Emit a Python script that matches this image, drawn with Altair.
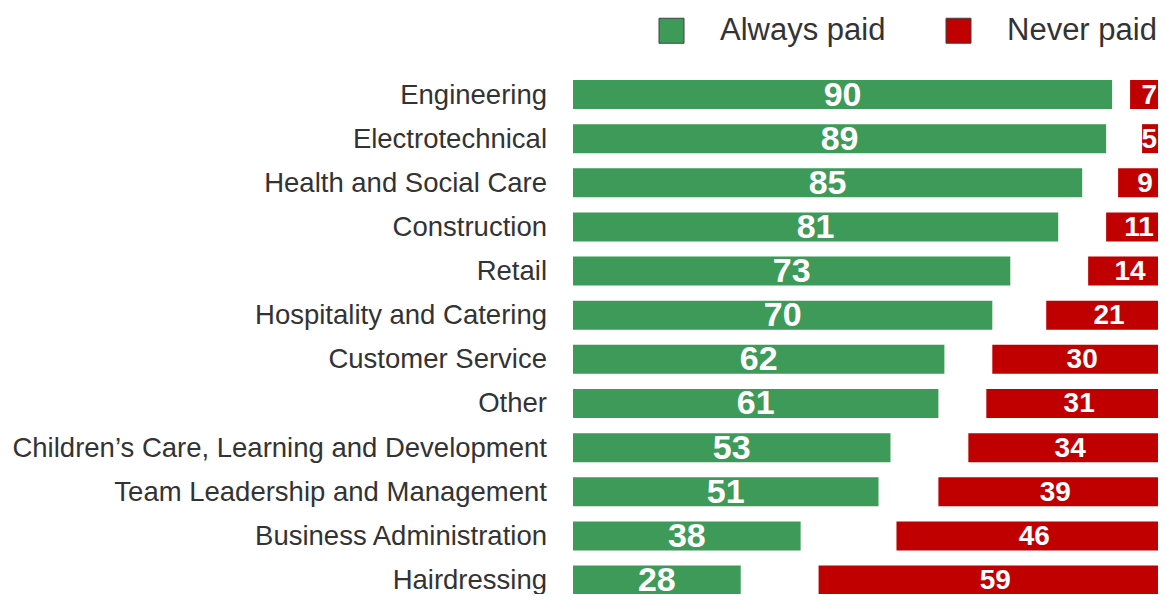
import altair as alt
import pandas as pd

categories = [
    "Engineering",
    "Electrotechnical",
    "Health and Social Care",
    "Construction",
    "Retail",
    "Hospitality and Catering",
    "Customer Service",
    "Other",
    "Children’s Care, Learning and Development",
    "Team Leadership and Management",
    "Business Administration",
    "Hairdressing",
]
always_paid = [90, 89, 85, 81, 73, 70, 62, 61, 53, 51, 38, 28]
never_paid = [7, 5, 9, 11, 14, 21, 30, 31, 34, 39, 46, 59]
series_names = ["Always paid", "Never paid"]
series_colors = ["#3D9A58", "#C00000"]

rows = []
for i, c in enumerate(categories):
    rows.append({"category": c, "idx": i, "series": series_names[0], "value": always_paid[i]})
    rows.append({"category": c, "idx": i, "series": series_names[1], "value": never_paid[i]})
df = pd.DataFrame(rows)

FONT = "Liberation Sans"

base = alt.Chart(df).transform_calculate(
    start="datum.series == 'Always paid' ? 0 : 100 - datum.value",
    end="datum.series == 'Always paid' ? datum.value : 100",
    mid="datum.series == 'Always paid' ? datum.value / 2 : min(100 - datum.value / 2, 96.2)",
)

xs = alt.Scale(domain=[0, 97.66], nice=False, zero=False, padding=0)
ys = alt.Scale(domain=[-1.96, 11.316], reverse=True, nice=False, zero=False, padding=0)

bars = base.mark_bar(size=29, clip=True).encode(
    x=alt.X("start:Q", scale=xs, axis=None),
    x2="end:Q",
    y=alt.Y("idx:Q", scale=ys, axis=None),
    color=alt.Color(
        "series:N",
        scale=alt.Scale(domain=series_names, range=series_colors),
        legend=alt.Legend(
            title=None,
            orient="none",
            direction="horizontal",
            legendX=83,
            legendY=7,
            padding=0,
            symbolType="square",
            symbolSize=625,
            symbolStrokeColor="#404040",
            symbolStrokeWidth=1,
            symbolOpacity=1,
            labelFont=FONT,
            labelFontSize=31,
            labelColor="#333333",
            labelOffset=33,
            labelLimit=400,
            columnPadding=57,
        ),
    ),
)

values_green = base.transform_filter("datum.series == 'Always paid'").mark_text(
    font=FONT, fontSize=34, fontWeight="bold", color="white", baseline="middle", dy=1
).encode(
    x=alt.X("mid:Q", scale=xs, axis=None),
    y=alt.Y("idx:Q", scale=ys, axis=None),
    text="value:Q",
)

values_red = base.transform_filter("datum.series == 'Never paid'").mark_text(
    font=FONT, fontSize=28, fontWeight="bold", color="white", baseline="middle", dy=1
).encode(
    x=alt.X("mid:Q", scale=xs, axis=None),
    y=alt.Y("idx:Q", scale=ys, axis=None),
    text="value:Q",
)

labels = alt.Chart(pd.DataFrame({"category": categories, "idx": list(range(len(categories)))})).mark_text(
    font=FONT, fontSize=27.5, color="#333333", align="right", baseline="middle", dy=1
).encode(
    x=alt.value(-26),
    y=alt.Y("idx:Q", scale=ys, axis=None),
    text="category:N",
)

chart = (
    alt.layer(bars, values_green, values_red, labels)
    .properties(
        width=585,
        height=586,
        autosize=alt.AutoSizeParams(type="none"),
        padding={"left": 565, "top": 0, "right": 0, "bottom": 0},
    )
    .configure_view(stroke=None)
)

chart.save("out.html", embed_options={"renderer": "svg", "actions": False})
